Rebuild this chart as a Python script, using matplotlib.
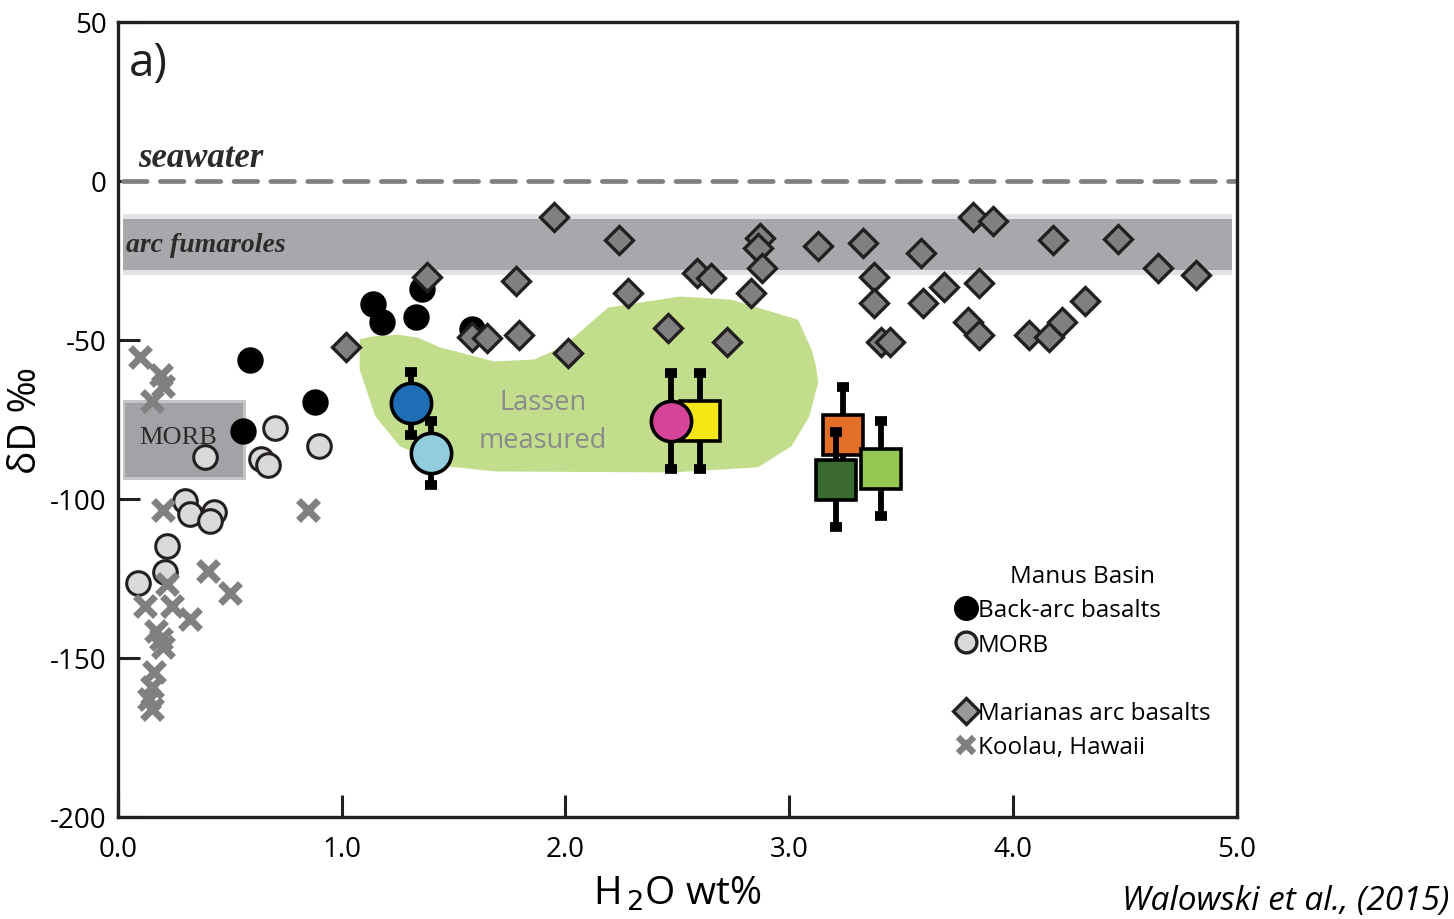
import matplotlib
matplotlib.use("Agg")
import matplotlib.pyplot as plt
from matplotlib.lines import Line2D
from matplotlib.patches import Polygon, Rectangle

# Manus Basin back-arc basalts
backarc_h2o = [0.59, 0.88, 0.56, 1.14, 1.18, 1.33, 1.36, 1.58]
backarc_dd = [-56.5, -69.7, -78.8, -38.6, -44.3, -42.7, -33.9, -46.5]

# Manus Basin MORB
morb_h2o = [0.39, 0.64, 0.67, 0.70, 0.90, 0.30, 0.32, 0.43, 0.41,
            0.22, 0.21, 0.09]
morb_dd = [-86.7, -87.6, -89.5, -77.6, -83.5, -100.8, -104.9, -104.0,
           -107.1, -114.9, -123.1, -126.3]

# Marianas arc basalts
marianas_h2o = [1.02, 1.38, 1.95, 2.24, 1.78, 2.28, 1.58, 1.65, 1.79,
                2.01, 2.46, 2.72, 2.59, 2.65, 2.87, 2.86, 2.88, 2.83,
                3.13, 3.82, 3.91, 3.33, 3.59, 4.18, 4.47, 4.65, 4.82,
                3.38, 3.38, 3.41, 3.45, 3.60, 3.69, 3.85, 3.80, 3.85,
                4.07, 4.16, 4.22, 4.32]
marianas_dd = [-52.4, -30.2, -11.3, -18.5, -31.4, -35.2, -49.0, -49.6,
               -48.4, -54.3, -46.2, -50.6, -28.9, -30.5, -17.9, -21.0,
               -27.3, -35.2, -20.4, -11.3, -12.6, -19.5, -22.6, -18.5,
               -18.2, -27.3, -29.5, -30.2, -38.3, -50.6, -50.6, -38.3,
               -33.3, -32.3, -44.3, -48.4, -48.4, -49.0, -44.3, -37.7]

# Koolau, Hawaii
koolau_h2o = [0.10, 0.19, 0.20, 0.15, 0.20, 0.85, 0.40, 0.50, 0.22,
              0.12, 0.24, 0.32, 0.17, 0.19, 0.20, 0.16, 0.15, 0.14, 0.15]
koolau_dd = [-55.3, -61.2, -64.4, -69.4, -103.6, -103.6, -122.8, -129.7,
             -126.9, -133.8, -133.8, -137.9, -141.6, -144.0, -146.7,
             -154.5, -159.2, -163.0, -166.1]

# Lassen melt inclusions (mean and error)
lassen_h2o = [1.31, 1.40, 2.60, 2.47, 3.24, 3.21, 3.41]
lassen_dd = [-70.0, -85.5, -75.5, -75.5, -80.0, -94.0, -90.5]
lassen_err = [10, 10, 15, 15, 15, 15, 15]
lassen_colors = ['#1f6db5', '#92cddd', '#f5e616', '#d6459a',
                 '#e46f27', '#3a6a30', '#94c853']
lassen_markers = ['o', 'o', 's', 'o', 's', 's', 's']

# Outline of the Lassen measured field
field_h2o = [1.08, 1.13, 1.25, 1.34, 1.44, 1.68, 1.86, 1.99, 2.19, 2.51,
             2.74, 3.04, 3.10, 3.12, 3.13, 3.09, 3.01, 2.86, 2.48, 1.69,
             1.47, 1.26, 1.15, 1.08]
field_dd = [-49.9, -49.0, -48.4, -49.3, -52.4, -56.8, -56.2, -52.1, -39.9,
            -36.4, -37.4, -43.7, -53.1, -58.4, -63.4, -74.1, -83.5, -90.1,
            -91.7, -91.4, -89.8, -83.5, -74.1, -59.4]

# Reference ranges
fumarole_range = (-28.0, -12.0)
morb_range = (-93.0, -70.0)
morb_h2o_range = (0.02, 0.57)

x_ticks = [0.0, 1.0, 2.0, 3.0, 4.0, 5.0]
y_ticks = [50, 0, -50, -100, -150, -200]

EDGE = '#231f20'
SANS = 'Open Sans'
SERIF = 'Liberation Serif'


def draw_background(ax):
    """Shaded reference ranges, seawater line and the Lassen field."""
    lo, hi = fumarole_range
    ax.add_patch(Rectangle((0.02, lo - 1.5), 4.96, hi - lo + 3.0,
                           facecolor='#e2e3e5', edgecolor='none', zorder=1))
    ax.add_patch(Rectangle((0.02, lo), 4.96, hi - lo,
                           facecolor='#a7a8ab', edgecolor='none', zorder=1.1))
    lo, hi = morb_range
    x0, x1 = morb_h2o_range
    ax.add_patch(Rectangle((x0, lo - 1.0), x1 - x0, hi - lo + 2.0,
                           facecolor='#c4c5c7', edgecolor='none', zorder=1))
    ax.add_patch(Rectangle((x0 + 0.01, lo), x1 - x0 - 0.02, hi - lo,
                           facecolor='#a2a3a6', edgecolor='none', zorder=1.1))

    ax.plot([0.02, 5.0], [0, 0], color='#808080', lw=3.4,
            dashes=(5.0, 2.8), solid_capstyle='round',
            dash_capstyle='round', zorder=2)

    ax.add_patch(Polygon(list(zip(field_h2o, field_dd)), closed=True,
                         facecolor='#c2de8d', edgecolor='none', zorder=1.5))

    ax.text(0.09, 4.5, 'seawater', family=SERIF, style='italic',
            weight='bold', fontsize=25, color='#2b2b2b', zorder=3)
    ax.text(0.035, -20, 'arc fumaroles', family=SERIF, style='italic',
            weight='bold', fontsize=20, color='#2b2b2b', va='center',
            zorder=3)
    ax.text(0.27, -80.5, 'MORB', family=SERIF, fontsize=19,
            color='#2b2b2b', ha='center', va='center', zorder=3)
    ax.text(1.9, -75.5, 'Lassen\nmeasured', family=SANS, fontsize=19.5,
            color='#8a8a8a', ha='center', va='center', linespacing=1.45,
            zorder=3)
    ax.text(0.05, 37, 'a)', family=SANS, fontsize=33, color='#231f20',
            va='center', zorder=3)


def draw_samples(ax):
    """Scatter the literature data and the Lassen inclusions."""
    ax.plot(morb_h2o, morb_dd, 'o', ms=17, mfc='#d9d9d9', mec=EDGE,
            mew=2.2, zorder=3)
    ax.plot(koolau_h2o, koolau_dd, 'x', ms=14, color='#808080', mew=5.0,
            zorder=4)
    ax.plot(backarc_h2o, backarc_dd, 'o', ms=18, mfc='black', mec='black',
            zorder=5)
    ax.plot(marianas_h2o, marianas_dd, 'D', ms=14.5, mfc='#808080',
            mec=EDGE, mew=2.4, zorder=6)

    for i in range(len(lassen_h2o)):
        z = 7 + 2 * i
        ax.errorbar(lassen_h2o[i], lassen_dd[i], yerr=lassen_err[i],
                    fmt='none', ecolor='black', elinewidth=4.2,
                    capsize=4.2, capthick=7, zorder=z)
        ax.plot(lassen_h2o[i], lassen_dd[i], lassen_markers[i],
                ms=29 if lassen_markers[i] == 'o' else 29.5,
                mfc=lassen_colors[i], mec='black', mew=2.6, zorder=z + 1)


def draw_legend(ax):
    handles = [
        Line2D([], [], ls='none', marker='o', ms=17, mfc='black',
               mec='black'),
        Line2D([], [], ls='none', marker='o', ms=15, mfc='#d9d9d9',
               mec=EDGE, mew=2.4),
        Line2D([], [], ls='none'),
        Line2D([], [], ls='none', marker='D', ms=13, mfc='#9a9a9a',
               mec=EDGE, mew=2.4),
        Line2D([], [], ls='none', marker='x', ms=12, color='#808080',
               mew=4.6),
    ]
    labels = ['Back-arc basalts', 'MORB', ' ', 'Marianas arc basalts',
              'Koolau, Hawaii']
    leg = ax.legend(handles, labels, title='Manus Basin', loc='upper left',
                    bbox_to_anchor=(0.738, 0.333), frameon=False,
                    borderpad=0, handlelength=0.85, handletextpad=0.05,
                    labelspacing=0.42, prop={'family': SANS, 'size': 17.5},
                    title_fontproperties={'family': SANS, 'size': 17.5})
    leg.set_zorder(30)


def main():
    plt.rcParams['axes.unicode_minus'] = False
    fig = plt.figure(figsize=(14.54, 9.2), dpi=100)
    ax = fig.add_axes([0.0812, 0.1109, 0.7693, 0.8645])

    draw_background(ax)
    draw_samples(ax)
    draw_legend(ax)

    ax.set_xlim(0, 5)
    ax.set_ylim(-200, 50)
    ax.set_xticks(x_ticks)
    ax.set_xticklabels(['%.1f' % t for t in x_ticks])
    ax.set_yticks(y_ticks)
    ax.set_yticklabels([str(t) for t in y_ticks])
    ax.tick_params(direction='in', length=15.5, width=2.2, color=EDGE,
                   labelsize=20)
    ax.tick_params(axis='x', pad=13)
    ax.tick_params(axis='y', pad=8)
    for label in ax.get_xticklabels() + ax.get_yticklabels():
        label.set_family(SANS)
    for spine in ax.spines.values():
        spine.set_linewidth(2.4)
        spine.set_color(EDGE)

    ax.set_ylabel('δD ‰', family=SANS, fontsize=28, labelpad=4)
    ax.set_xlabel('H$_{\\,2}$O wt%', family=SANS, fontsize=28, labelpad=8)
    fig.text(0.997, 0.002, 'Walowski et al., (2015)', family=SANS,
             style='italic', fontsize=24, ha='right', va='bottom')

    fig.savefig('out.png', dpi=100)


if __name__ == "__main__":
    main()
